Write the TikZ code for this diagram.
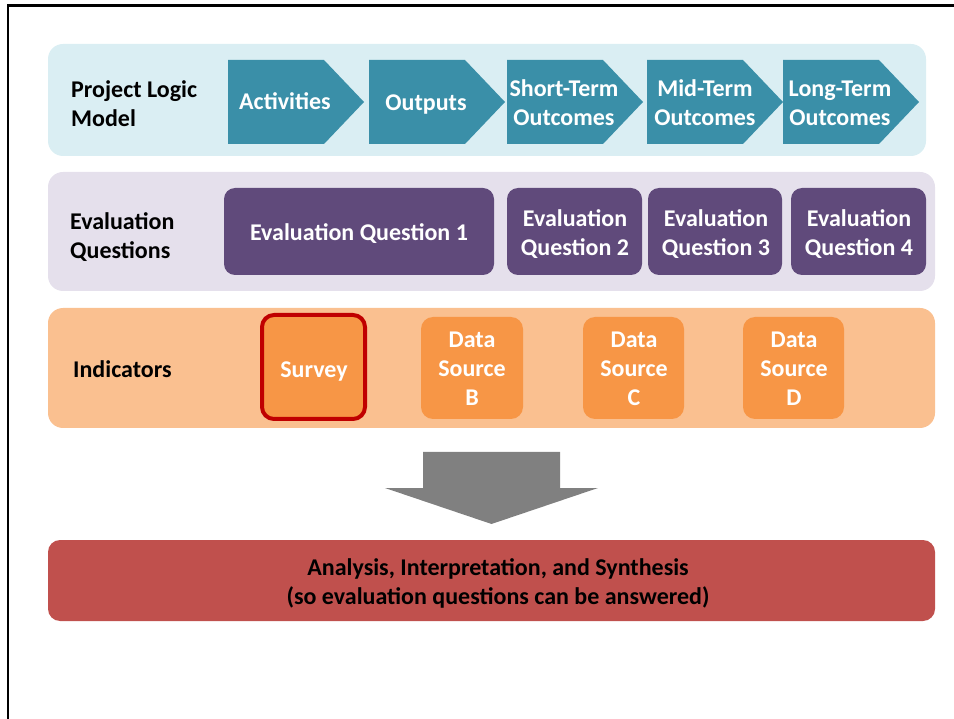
\documentclass[tikz,border=0pt]{standalone}
\usepackage{fontspec}
\setmainfont{Carlito}
\definecolor{bandblue}{HTML}{DAEEF3}
\definecolor{chevteal}{HTML}{3A8FA8}
\definecolor{bandlilac}{HTML}{E5E0EC}
\definecolor{qpurple}{HTML}{604A7B}
\definecolor{bandpeach}{HTML}{FAC090}
\definecolor{srcorange}{HTML}{F79646}
\definecolor{survred}{HTML}{C00000}
\definecolor{arrowgray}{HTML}{808080}
\definecolor{synthred}{HTML}{C0504D}
\begin{document}
\begin{tikzpicture}[x=1pt,y=-1pt,
  txt/.style={font=\fontsize{24}{29}\selectfont\bfseries, inner sep=0pt},
  rowlabel/.style={txt, align=left, anchor=west, text=black},
  wtext/.style={txt, align=center, text=white},
  chevron/.style={fill=chevteal},
  qbox/.style={fill=qpurple, rounded corners=11pt},
  srcbox/.style={fill=srcorange, rounded corners=12pt}]
\useasboundingbox (0,0) rectangle (954,719);

% page frame
\draw[line width=2.5pt] (8,719) -- (8,5.5) -- (954,5.5);

% ---- project logic model row ----
\fill[bandblue, rounded corners=15pt] (48,44) rectangle (926,156);
\node[rowlabel] (plm) at (71,104) {Project Logic\\Model};
\foreach \x in {228,369,507,647,783}
  \fill[chevron] (\x,60) -- (\x+96,60) -- (\x+136,102) -- (\x+96,144) -- (\x,144) -- cycle;
\node[wtext] (act) at (285,101.5) {Activities};
\node[wtext] (out) at (426,104.5) {Outputs};
\node[wtext] (sto) at (564,103) {Short-Term\\Outcomes};
\node[wtext] (mto) at (705,103) {Mid-Term\\Outcomes};
\node[wtext] (lto) at (840,103) {Long-Term\\Outcomes};

% ---- evaluation questions row ----
\fill[bandlilac, rounded corners=15pt] (48,172) rectangle (935,291);
\node[rowlabel] (evq) at (70,237) {Evaluation\\Questions};
\fill[qbox] (224,188) rectangle (494,275);
\fill[qbox] (507,188) rectangle (642,275);
\fill[qbox] (648,188) rectangle (782,275);
\fill[qbox] (791,188) rectangle (926,275);
\node[wtext] (q1) at (359,234) {Evaluation Question 1};
\node[wtext] (q2) at (575,234) {Evaluation\\Question 2};
\node[wtext] (q3) at (716,234) {Evaluation\\Question 3};
\node[wtext] (q4) at (859,234) {Evaluation\\Question 4};

% ---- indicators row ----
\fill[bandpeach, rounded corners=15pt] (48,308) rectangle (935,428);
\node[rowlabel] (ind) at (73,369) {Indicators};
\filldraw[srcbox, draw=survred, line width=4pt] (262,315) rectangle (365,419);
\fill[srcbox] (421,317) rectangle (523,419);
\fill[srcbox] (583,317) rectangle (684,419);
\fill[srcbox] (743,317) rectangle (844,419);
\node[wtext] (svy) at (314,371.5) {Survey};
\node[wtext] (dsb) at (472,369) {Data\\Source\\B};
\node[wtext] (dsc) at (634,369) {Data\\Source\\C};
\node[wtext] (dsd) at (794,369) {Data\\Source\\D};

% ---- block arrow down ----
\fill[arrowgray] (423,452) -- (560,452) -- (560,488) -- (598,488)
  -- (491.5,524) -- (385,488) -- (423,488) -- cycle;

% ---- synthesis box ----
\fill[synthred, rounded corners=12pt] (48,540) rectangle (935,621);
\node[txt, align=center, text=black] (syn) at (498,583.5)
  {Analysis, Interpretation, and Synthesis\\(so evaluation questions can be answered)};
\end{tikzpicture}
\end{document}
